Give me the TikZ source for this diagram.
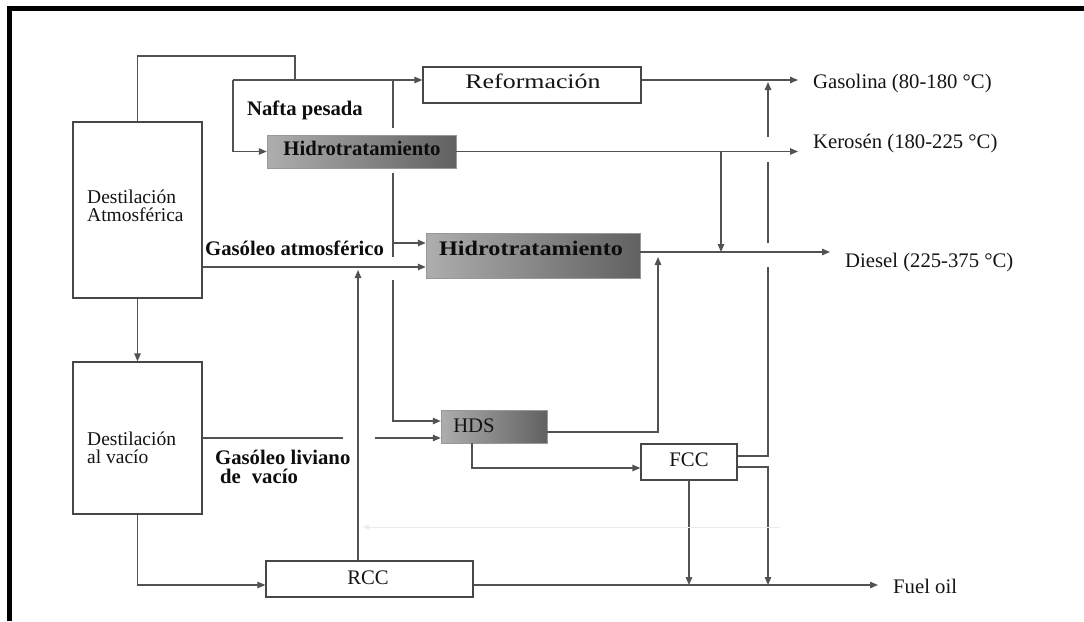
\documentclass[tikz,border=0pt]{standalone}
\usepackage{fontspec}
\setmainfont{Liberation Serif}
\usetikzlibrary{arrows.meta,calc}
\begin{document}
\begin{tikzpicture}[x=1pt,y=-1pt,
  ln/.style={draw=black!68, line width=1.3pt},
  arr/.style={ln, -{Triangle[length=8pt,width=6.5pt]}},
  faint/.style={draw=black!8, line width=1pt, -{Triangle[length=6pt,width=5pt]}},
  box/.style={draw=black!72, line width=1.3pt, fill=white, inner sep=0pt},
  shbox/.style={draw=black!40, line width=0.5pt, inner sep=0pt,
    left color=black!32, right color=black!62},
  lbl/.style={inner sep=0pt, text=black!92, font=\fontsize{20.7}{18.5}\selectfont},
  blbl/.style={inner sep=0pt, text=black!95, font=\fontsize{20.7}{19}\selectfont\bfseries},
  slbl/.style={inner sep=0pt, text=black!92, font=\fontsize{19.5}{18.5}\selectfont},
  ]
\useasboundingbox (0,0) rectangle (1084,621);
% frame along the top and left edges
\fill[black] (7,6) rectangle (1084,11);
\fill[black] (7,6) rectangle (12,621);

% process units
\node[box, minimum width=129pt, minimum height=176pt] (atm) at (137.5,210) {};
\node[box, minimum width=129pt, minimum height=152pt] (vac) at (137.5,438) {};
\node[box, minimum width=218pt, minimum height=36pt] (refo) at (532,85) {};
\node[shbox, minimum width=189pt, minimum height=33pt] (hdt1) at (361.5,151.5) {};
\node[shbox, minimum width=214pt, minimum height=45pt] (hdt2) at (533,255.5) {};
\node[shbox, minimum width=106pt, minimum height=33pt] (hds) at (494,426.5) {};
\node[box, minimum width=96pt, minimum height=36pt] (fcc) at (689,462) {};
\node[box, minimum width=207pt, minimum height=36pt] (rcc) at (369.5,579) {};

% unit names
\node[slbl, align=left, anchor=west] (atmtxt) at (87,206) {Destilación\\Atmosférica};
\node[slbl, align=left, anchor=west] (vactxt) at (87,448) {Destilación\\al vacío};
\node[lbl, anchor=base] (refotxt) at (533,88) {\scalebox{1.25}[1]{Reformación}};
\node[blbl, anchor=base] (hdt1txt) at (362,155) {Hidrotratamiento};
\node[blbl, anchor=base] (hdt2txt) at (531,255) {\scalebox{1.17}[1]{Hidrotratamiento}};
\node[lbl, anchor=base] (hdstxt) at (474,432) {HDS};
\node[lbl, anchor=base] (fcctxt) at (689,466) {FCC};
\node[lbl, anchor=base] (rcctxt) at (368,584) {RCC};

% stream names
\node[blbl, anchor=base west] (nafta) at (247,115) {Nafta pesada};
\node[blbl, anchor=base west] (gasatm) at (205,255) {Gasóleo atmosférico};
\node[blbl, align=left, anchor=west] (gasliv) at (215,467) {Gasóleo liviano\\\hspace{5pt}de\hspace{11pt}vacío};

% products
\node[lbl, anchor=base west] (gas) at (813,88) {Gasolina (80-180 °C)};
\node[lbl, anchor=base west] (ker) at (813,148) {Kerosén (180-225 °C)};
\node[lbl, anchor=base west] (die) at (845,267) {Diesel (225-375 °C)};
\node[lbl, anchor=base west] (fuel) at (893,593) {Fuel oil};

% routing points
\coordinate (tp) at (295,56);
\coordinate (J) at (295,80);
\coordinate (nl) at (233,80);
\coordinate (vr) at (393,80);
\coordinate (v1) at (393,128);
\coordinate (v2) at (393,173);
\coordinate (v3) at (393,257);
\coordinate (vb) at (393,243);
\coordinate (v4) at (393,280);
\coordinate (vh) at (393,421);
\coordinate (gy) at (0,267);
\coordinate (ru) at (358,270);
\coordinate (gl1) at (343,438);
\coordinate (gl2) at (375,438);
\coordinate (fo) at (0,585);
\coordinate (dl) at (0,252);
\coordinate (kb) at (721,0);
\coordinate (hu) at (658,257);
\coordinate (hy) at (0,432);
\coordinate (hd) at (472,468);
\coordinate (fu) at (0,456);
\coordinate (fd) at (0,467);
\coordinate (x1) at (768,267);
\coordinate (x2) at (768,243);
\coordinate (x3) at (768,162);
\coordinate (x4) at (768,137);
\coordinate (xt) at (768,82);
\coordinate (fa1) at (780,527);
\coordinate (fa2) at (363,527);

% atmospheric column overhead
\draw[ln] (atm.north) |- (tp) -- (J);
\draw[arr] (nl) -- (nl -| refo.west);
\draw[arr] (nl) |- (hdt1.west);
\draw[ln] (vr) -- (v1);
\draw[ln] (v2) -- (v3);
\draw[arr] (vb) -- (vb -| hdt2.west);
\draw[arr] (v4) |- (vh -| hds.west);

% side streams
\draw[arr] (atm.east |- gy) -- (gy -| hdt2.west);
\draw[arr] (rcc.north -| ru) -- (ru);
\draw[ln] (vac.east |- gl1) -- (gl1);
\draw[arr] (gl2) -- (gl2 -| hds.west);
\draw[arr] (atm.south) -- (vac.north);
\draw[arr] (vac.south) |- (fo -| rcc.west);

% product lines
\draw[arr, shorten >=15pt] (refo.east |- nl) -- (nl -| gas.west);
\draw[arr, shorten >=15pt] (hdt1.east) -- (hdt1.east -| ker.west);
\draw[arr] (kb |- hdt1.east) -- (kb |- dl);
\draw[arr, shorten >=15pt] (hdt2.east |- dl) -- (dl -| die.west);
\draw[arr, shorten >=15pt] (rcc.east |- fo) -- (fo -| fuel.west);

% HDS and FCC
\draw[arr] (hds.east |- hy) -| (hu);
\draw[arr] (hds.south -| hd) |- (hd -| fcc.west);
\draw[ln] (fcc.east |- fu) -| (x1);
\draw[ln] (x2) -- (x3);
\draw[arr] (x4) -- (xt);
\draw[arr] (fcc.east |- fd) -| (fo -| x1);
\draw[arr] (fcc.south) -- (fcc.south |- fo);

% faint return line
\draw[faint] (fa1) -- (fa2);
\end{tikzpicture}
\end{document}
